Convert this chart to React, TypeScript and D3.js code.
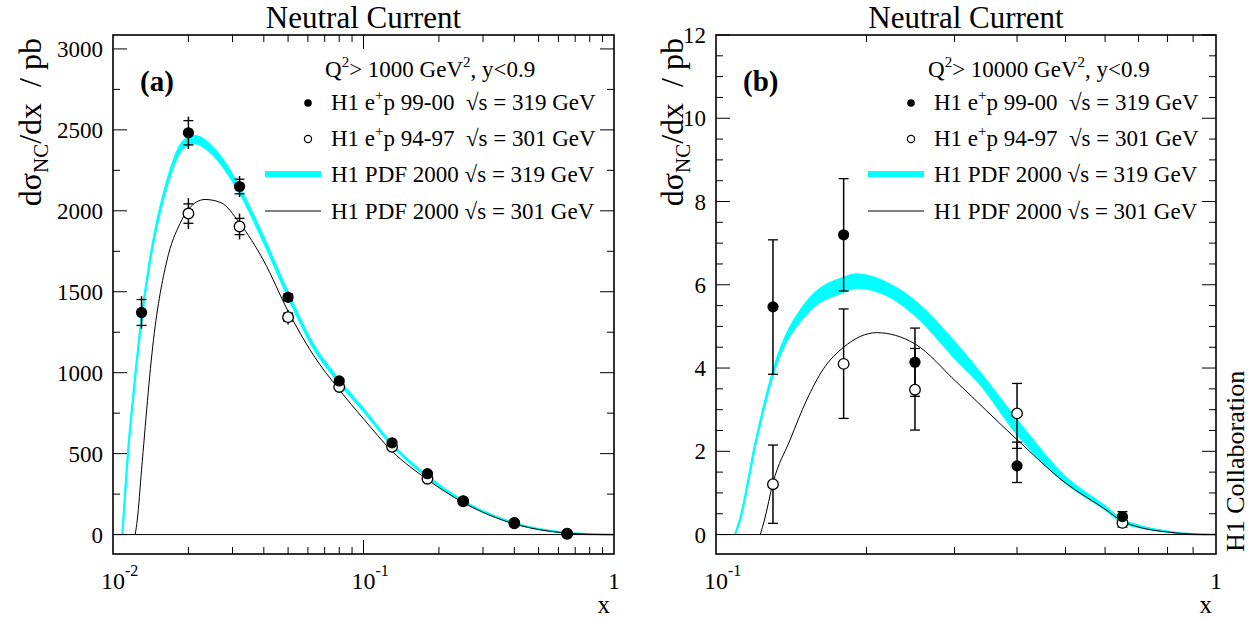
import React from 'react';
import * as d3 from 'd3';

const W = 1253;
const H = 619;
const FONT = "'Liberation Serif','Times New Roman',serif";
const CYAN = '#00ffff';
const NB = '\u00a0';

// ---------- Panel (a): Q2 > 1000 GeV2 ----------
const aX319 = [0.013, 0.02, 0.032, 0.05, 0.08, 0.13, 0.18, 0.25, 0.4, 0.65];
const aY319 = [1372, 2482, 2150, 1466, 949, 567, 376, 209, 74, 6];
const aStat319 = [80, 75, 45, 20, 12, 10, 8, 6, 4, 1];
const aTot319 = [100, 100, 65, 35, 22, 18, 14, 11, 7, 3];

const aX301 = [0.02, 0.032, 0.05, 0.08, 0.13, 0.18, 0.25, 0.4, 0.65];
const aY301 = [1983, 1903, 1343, 912, 542, 345, 205, 70, 5];
const aStat301 = [60, 50, 25, 15, 12, 10, 8, 5, 2];
const aTot301 = [95, 80, 45, 28, 22, 18, 14, 9, 3];

const aBandX = [0.0109, 0.0115, 0.012, 0.013, 0.014, 0.0164, 0.0191, 0.0213, 0.025, 0.032, 0.04, 0.05, 0.063, 0.08, 0.1, 0.13, 0.18, 0.25, 0.4, 0.65, 0.8, 1.0];
const aBandC = [0, 520, 830, 1330, 1680, 2165, 2410, 2440, 2370, 2130, 1820, 1480, 1165, 945, 770, 555, 357, 205, 70, 10, 2, 0];
const aBandHW = [0, 8, 10, 15, 18, 22, 25, 25, 25, 22, 20, 18, 15, 12, 10, 8, 6, 5, 3, 1, 0, 0];

const aLineX = [0.01226, 0.0125, 0.013, 0.0145, 0.0164, 0.0185, 0.02, 0.0233, 0.027, 0.032, 0.04, 0.05, 0.063, 0.08, 0.1, 0.13, 0.18, 0.25, 0.4, 0.65, 0.8, 1.0];
const aLineY = [0, 90, 400, 1200, 1690, 1920, 2010, 2070, 2050, 1925, 1690, 1380, 1110, 895, 715, 515, 340, 198, 66, 9, 2, 0];

const aYTickLabels = [0, 500, 1000, 1500, 2000, 2500, 3000];

// ---------- Panel (b): Q2 > 10000 GeV2 ----------
const bX319 = [0.13, 0.18, 0.25, 0.4, 0.65];
const bY319 = [5.47, 7.2, 4.14, 1.65, 0.43];
const bLo319 = [3.85, 5.85, 3.32, 1.25, 0.31];
const bHi319 = [7.08, 8.55, 4.96, 2.22, 0.55];

const bX301 = [0.13, 0.18, 0.25, 0.4, 0.65];
const bY301 = [1.21, 4.1, 3.48, 2.91, 0.28];
const bLo301 = [0.27, 2.79, 2.51, 2.07, 0.18];
const bHi301 = [2.15, 5.42, 4.47, 3.63, 0.38];

const bBandX = [0.1092, 0.1117, 0.12, 0.13, 0.1518, 0.18, 0.191, 0.2228, 0.25, 0.3029, 0.3374, 0.4, 0.5, 0.6, 0.65, 0.7, 0.8, 0.9, 1.0];
const bBandC = [0, 0.36, 2.2, 3.88, 5.45, 6.0, 6.09, 5.86, 5.44, 4.38, 3.75, 2.58, 1.31, 0.64, 0.32, 0.2, 0.07, 0.01, 0];
const bBandHW = [0, 0.03, 0.05, 0.07, 0.15, 0.18, 0.17, 0.16, 0.18, 0.2, 0.15, 0.18, 0.08, 0.05, 0.04, 0.03, 0.01, 0, 0];

const bLineX = [0.1226, 0.125, 0.13, 0.1406, 0.1518, 0.164, 0.18, 0.2096, 0.25, 0.3029, 0.4, 0.5, 0.6, 0.65, 0.7, 0.8, 0.9, 1.0];
const bLineY = [0, 0.35, 1.24, 2.27, 3.23, 3.98, 4.5, 4.85, 4.58, 3.66, 2.28, 1.24, 0.61, 0.32, 0.18, 0.06, 0.01, 0];

const bYTickLabels = [0, 2, 4, 6, 8, 10, 12];

type Pt = { x: number; y: number; lo: number; hi: number; sLo: number; sHi: number };

type PanelProps = {
  L: number; R: number; T: number; B: number;
  xDomain: [number, number];
  yDomain: [number, number];
  yMinorStep: number;
  yMajorStep: number;
  yLabels: number[];
  xLabelExp: (string | null)[];
  tag: string;
  q2: string;
  filled: Pt[];
  open: Pt[];
  bandX: number[]; bandC: number[]; bandHW: number[];
  lineX: number[]; lineY: number[];
  yTitleX: number;
};

function Sup({ t, size, d }: { t: string; size: number; d: number }) {
  return <tspan dy={-d} fontSize={size}>{t}</tspan>;
}

function Panel(p: PanelProps) {
  const x = d3.scaleLog().domain(p.xDomain).range([p.L, p.R]);
  const y = d3.scaleLinear().domain(p.yDomain).range([p.B, p.T]);

  const bandArea = d3
    .area<number>()
    .x((_, i) => x(p.bandX[i]))
    .y0((_, i) => y(p.bandC[i] - p.bandHW[i]))
    .y1((_, i) => y(p.bandC[i] + p.bandHW[i]))
    .curve(d3.curveMonotoneX);
  const bandMid = d3
    .line<number>()
    .x((_, i) => x(p.bandX[i]))
    .y((_, i) => y(p.bandC[i]))
    .curve(d3.curveMonotoneX);
  const line = d3
    .line<number>()
    .x((_, i) => x(p.lineX[i]))
    .y((_, i) => y(p.lineY[i]))
    .curve(d3.curveMonotoneX);

  const xTicks = x.ticks();
  const isMajor = (v: number) => Math.abs(Math.log10(v) - Math.round(Math.log10(v))) < 1e-9;
  const yTicks = d3.range(0, p.yDomain[1] + 1e-9, p.yMinorStep);
  const yIsMajor = (v: number) => Math.abs(v / p.yMajorStep - Math.round(v / p.yMajorStep)) < 1e-9;

  const majLen = 14;
  const minLen = 7;
  const cx = (p.L + p.R) / 2;

  const errBar = (d: Pt, i: number) => {
    const px = x(d.x);
    return (
      <g key={i}>
        <line x1={px} x2={px} y1={y(d.lo)} y2={y(d.hi)} stroke="#000" strokeWidth={1.5} />
        <line x1={px - 5} x2={px + 5} y1={y(d.sLo)} y2={y(d.sLo)} stroke="#000" strokeWidth={1.3} />
        <line x1={px - 5} x2={px + 5} y1={y(d.sHi)} y2={y(d.sHi)} stroke="#000" strokeWidth={1.3} />
      </g>
    );
  };

  const legX = p.L + 195;
  const legT = p.L + 218;
  const rows = [110, 146, 182, 219];
  const fs = 23;

  return (
    <g fontFamily={FONT}>
      <clipPath id={'clip' + p.tag}>
        <rect x={p.L} y={p.T} width={p.R - p.L} height={p.B - p.T} />
      </clipPath>
      <text x={cx} y={28} textAnchor="middle" fontSize={31}>Neutral Current</text>

      <g clipPath={`url(#clip${p.tag})`}>
        <path d={bandArea(p.bandX) || ''} fill={CYAN} stroke={CYAN} strokeWidth={1.2} />
        <path d={bandMid(p.bandX) || ''} fill="none" stroke={CYAN} strokeWidth={2.2} />
        <line x1={p.L} x2={p.R} y1={y(0)} y2={y(0)} stroke="#000" strokeWidth={1} />
        <path d={line(p.lineX) || ''} fill="none" stroke="#000" strokeWidth={1} />
        {p.open.map(errBar)}
        {p.filled.map(errBar)}
        {p.open.map((d, i) => (
          <circle key={'o' + i} cx={x(d.x)} cy={y(d.y)} r={5.3} fill="#fff" stroke="#000" strokeWidth={1.3} />
        ))}
        {p.filled.map((d, i) => (
          <circle key={'f' + i} cx={x(d.x)} cy={y(d.y)} r={5.6} fill="#000" />
        ))}
      </g>

      {/* frame */}
      <rect x={p.L} y={p.T} width={p.R - p.L} height={p.B - p.T} fill="none" stroke="#000" strokeWidth={1.6} />
      {xTicks.map((v, i) => {
        const len = isMajor(v) ? majLen : minLen;
        const px = x(v);
        if (px <= p.L + 0.5 || px >= p.R - 0.5) return null;
        return (
          <g key={'xt' + i}>
            <line x1={px} x2={px} y1={p.B} y2={p.B - len} stroke="#000" strokeWidth={1} />
            <line x1={px} x2={px} y1={p.T} y2={p.T + len} stroke="#000" strokeWidth={1} />
          </g>
        );
      })}
      {yTicks.map((v, i) => {
        const len = yIsMajor(v) ? majLen : minLen;
        const py = y(v);
        return (
          <g key={'yt' + i}>
            <line x1={p.L} x2={p.L + len} y1={py} y2={py} stroke="#000" strokeWidth={1} />
            <line x1={p.R} x2={p.R - len} y1={py} y2={py} stroke="#000" strokeWidth={1} />
          </g>
        );
      })}
      {p.yLabels.map((v) => (
        <text key={'yl' + v} x={p.L - 10} y={y(v)} dy="0.35em" textAnchor="end" fontSize={23}>
          {v}
        </text>
      ))}
      {xTicks.filter(isMajor).map((v, i) => {
        const exp = p.xLabelExp[i];
        const px = x(v);
        if (exp === null) {
          return (
            <text key={'xl' + i} x={px} y={589} textAnchor="middle" fontSize={24}>1</text>
          );
        }
        return (
          <text key={'xl' + i} x={px - 12} y={589} fontSize={24}>
            10<Sup t={exp} size={16} d={13} />
          </text>
        );
      })}
      <text x={p.R - 4} y={613} textAnchor="end" fontSize={25}>x</text>

      <text transform={`translate(${p.yTitleX},38) rotate(-90)`} textAnchor="end" fontSize={32}>
        dσ<tspan dy={7} fontSize={21}>NC</tspan><tspan dy={-7}>{`/dx${NB}${NB}/ pb`}</tspan>
      </text>

      <text x={p.L + 27} y={91} fontSize={29} fontWeight="bold">{p.tag}</text>

      <g fontSize={fs}>
        <text x={p.L + 212} y={77}>
          Q<Sup t="2" size={15} d={10} /><tspan dy={10}>{`> ${p.q2} GeV`}</tspan><Sup t="2" size={15} d={10} /><tspan dy={10}>, y&lt;0.9</tspan>
        </text>
        <circle cx={legX} cy={rows[0] - 7} r={3.8} fill="#000" />
        <text x={legT} y={rows[0]}>
          H1 e<Sup t="+" size={15} d={10} /><tspan dy={10}>{`p 99-00${NB}${NB}√s = 319 GeV`}</tspan>
        </text>
        <circle cx={legX} cy={rows[1] - 7} r={3.6} fill="#fff" stroke="#000" strokeWidth={1.2} />
        <text x={legT} y={rows[1]}>
          H1 e<Sup t="+" size={15} d={10} /><tspan dy={10}>{`p 94-97${NB}${NB}√s = 301 GeV`}</tspan>
        </text>
        <line x1={p.L + 152} x2={p.L + 208} y1={rows[2] - 8} y2={rows[2] - 8} stroke={CYAN} strokeWidth={6} />
        <text x={legT} y={rows[2]}>H1 PDF 2000 √s = 319 GeV</text>
        <line x1={p.L + 152} x2={p.L + 208} y1={rows[3] - 8} y2={rows[3] - 8} stroke="#000" strokeWidth={1} />
        <text x={legT} y={rows[3]}>H1 PDF 2000 √s = 301 GeV</text>
      </g>
    </g>
  );
}

export default function App() {
  const aFilled: Pt[] = aX319.map((v, i) => ({
    x: v, y: aY319[i], lo: aY319[i] - aTot319[i], hi: aY319[i] + aTot319[i],
    sLo: aY319[i] - aStat319[i], sHi: aY319[i] + aStat319[i],
  }));
  const aOpen: Pt[] = aX301.map((v, i) => ({
    x: v, y: aY301[i], lo: aY301[i] - aTot301[i], hi: aY301[i] + aTot301[i],
    sLo: aY301[i] - aStat301[i], sHi: aY301[i] + aStat301[i],
  }));
  const bFilled: Pt[] = bX319.map((v, i) => ({
    x: v, y: bY319[i], lo: bLo319[i], hi: bHi319[i], sLo: bLo319[i], sHi: bHi319[i],
  }));
  const bOpen: Pt[] = bX301.map((v, i) => ({
    x: v, y: bY301[i], lo: bLo301[i], hi: bHi301[i], sLo: bLo301[i], sHi: bHi301[i],
  }));

  return (
    <svg width={W} height={H} style={{ display: 'block', position: 'absolute', left: 0, top: 0, background: '#fff' }}>
      <rect x={0} y={0} width={W} height={H} fill="#fff" />
      <Panel
        L={113} R={614} T={35} B={554}
        xDomain={[0.01, 1]} yDomain={[-120, 3086]}
        yMinorStep={250} yMajorStep={500} yLabels={aYTickLabels}
        xLabelExp={['-2', '-1', null]}
        tag="(a)" q2="1000"
        filled={aFilled} open={aOpen}
        bandX={aBandX} bandC={aBandC} bandHW={aBandHW}
        lineX={aLineX} lineY={aLineY}
        yTitleX={41}
      />
      <Panel
        L={716} R={1216} T={35} B={554}
        xDomain={[0.1, 1]} yDomain={[-0.467, 12]}
        yMinorStep={0.5} yMajorStep={2} yLabels={bYTickLabels}
        xLabelExp={['-1', null]}
        tag="(b)" q2="10000"
        filled={bFilled} open={bOpen}
        bandX={bBandX} bandC={bBandC} bandHW={bBandHW}
        lineX={bLineX} lineY={bLineY}
        yTitleX={683}
      />
      <text transform="translate(1244,552) rotate(-90)" fontFamily={FONT} fontSize={26}>H1 Collaboration</text>
    </svg>
  );
}
